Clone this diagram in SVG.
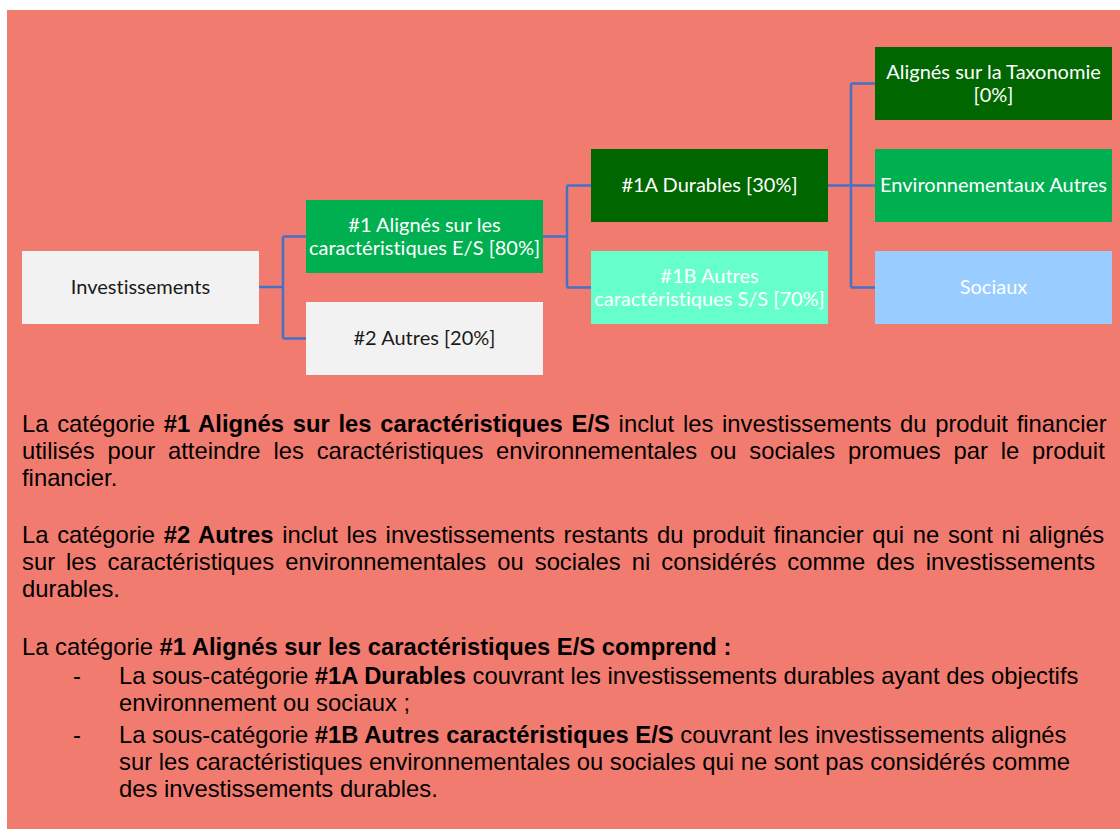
<svg xmlns="http://www.w3.org/2000/svg" width="1120" height="829" viewBox="0 0 1120 829">
<style>
.box-t{font-family:Lato,"Open Sans","Noto Sans",sans-serif;font-size:20px;text-anchor:middle;font-variant-ligatures:none}
.dark{fill:#1a1a1a}
.light{fill:#ffffff}
.conn{fill:none;stroke:#4472C4;stroke-width:2.5}
.p{font-family:"Liberation Sans",Arial,sans-serif;font-size:23.8px;fill:#000}
.b{font-weight:bold}
</style>
<rect x="7" y="10" width="1113" height="819" fill="#F27B70"/>
<g id="connectors">
<path class="conn" d="M259,287 H283 M283,236.5 V338.5 M283,236.5 H306 M283,338.5 H306"/>
<path class="conn" d="M543,236.5 H567 M567,185.5 V287.5 M567,185.5 H591 M567,287.5 H591"/>
<path class="conn" d="M828,185.5 H851 M851,83.5 V287.5 M851,83.5 H875 M851,185.5 H875 M851,287.5 H875"/>
</g>
<g id="n-investissements">
<rect x="22" y="251" width="237" height="73" fill="#F2F2F2"/>
<text class="box-t dark" x="140.5" y="294">Investissements</text>
</g>
<g id="n-1">
<rect x="306" y="200" width="237" height="73" fill="#00B050"/>
<text class="box-t light" x="424.5" y="232">#1 Alignés sur les</text>
<text class="box-t light" x="424.5" y="255">caractéristiques E/S [80%]</text>
</g>
<g id="n-2">
<rect x="306" y="302" width="237" height="73" fill="#F2F2F2"/>
<text class="box-t dark" x="424.5" y="345">#2 Autres [20%]</text>
</g>
<g id="n-1a">
<rect x="591" y="149" width="237" height="73" fill="#006600"/>
<text class="box-t light" x="709.5" y="192">#1A Durables [30%]</text>
</g>
<g id="n-1b">
<rect x="591" y="251" width="237" height="73" fill="#66FFCC"/>
<text class="box-t light" x="709.5" y="283">#1B Autres</text>
<text class="box-t light" x="709.5" y="306">caractéristiques S/S [70%]</text>
</g>
<g id="n-taxo">
<rect x="875" y="47" width="237" height="73" fill="#006600"/>
<text class="box-t light" x="993.5" y="79">Alignés sur la Taxonomie</text>
<text class="box-t light" x="993.5" y="102">[0%]</text>
</g>
<g id="n-env">
<rect x="875" y="149" width="237" height="73" fill="#00B050"/>
<text class="box-t light" x="993.5" y="192">Environnementaux Autres</text>
</g>
<g id="n-soc">
<rect x="875" y="251" width="237" height="73" fill="#99CCFF"/>
<text class="box-t light" x="993.5" y="294">Sociaux</text>
</g>
<g id="texts">
<text class="p" x="22" y="432" word-spacing="2.1">La catégorie <tspan class="b">#1 Alignés sur les caractéristiques E/S</tspan> inclut les investissements du produit financier</text>
<text class="p" x="22" y="459" word-spacing="6.2">utilisés pour atteindre les caractéristiques environnementales ou sociales promues par le produit</text>
<text class="p" x="22" y="486">financier.</text>
<text class="p" x="22" y="543" word-spacing="2.1">La catégorie <tspan class="b">#2 Autres</tspan> inclut les investissements restants du produit financier qui ne sont ni alignés</text>
<text class="p" x="22" y="570" word-spacing="4.4">sur les caractéristiques environnementales ou sociales ni considérés comme des investissements</text>
<text class="p" x="22" y="597">durables.</text>
<text class="p" x="22" y="655">La catégorie <tspan class="b">#1 Alignés sur les caractéristiques E/S comprend :</tspan></text>
<text class="p" x="73" y="684">-</text>
<text class="p" x="119" y="684">La sous-catégorie <tspan class="b">#1A Durables</tspan> couvrant les investissements durables ayant des objectifs</text>
<text class="p" x="119" y="711">environnement ou sociaux ;</text>
<text class="p" x="73" y="743">-</text>
<text class="p" x="119" y="743">La sous-catégorie <tspan class="b">#1B Autres caractéristiques E/S</tspan> couvrant les investissements alignés</text>
<text class="p" x="119" y="770">sur les caractéristiques environnementales ou sociales qui ne sont pas considérés comme</text>
<text class="p" x="119" y="797">des investissements durables.</text>
</g>
</svg>
